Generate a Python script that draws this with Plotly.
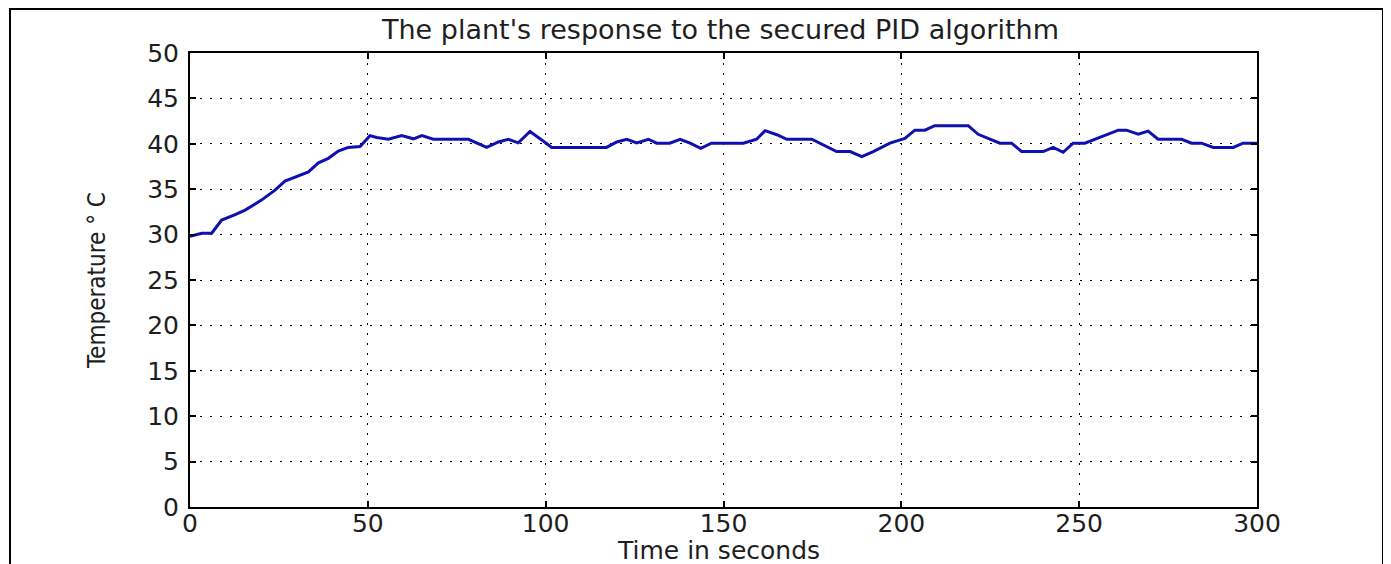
import plotly.graph_objects as go

time_s = [0, 3.3, 6.1, 8.9, 12.7, 15.5, 20.1, 23.9, 26.7, 30.4,
          33.3, 36.1, 38.9, 41.7, 44.5, 47.8, 50.6, 52.5, 55.8, 59.5,
          62.8, 65.2, 68.4, 78.3, 83.4, 86.7, 89.5, 92.3, 95.6, 99.3,
          101.7, 117.1, 120, 122.8, 125.6, 128.9, 131.2, 134.9, 137.8, 140.6,
          143.6, 146.6, 155.6, 159.3, 161.7, 165, 167.8, 174.8, 178.1, 181.8,
          185.6, 188.9, 192.1, 196.8, 201, 203.8, 206.6, 209.4, 218.8, 221.6,
          224.4, 227.7, 231, 233.8, 239.9, 242.7, 245.5, 248.3, 251.6, 254.9,
          258.6, 261, 263.3, 266.6, 269.4, 272.2, 278.8, 281.6, 284.4, 287.7,
          293.3, 296.1, 300]
temperature = [29.8, 30.15, 30.15, 31.6, 32.2, 32.7, 33.8, 34.9, 35.9, 36.5,
               36.9, 37.9, 38.4, 39.2, 39.6, 39.7, 40.9, 40.7, 40.5, 40.9,
               40.55, 40.9, 40.5, 40.5, 39.6, 40.2, 40.5, 40.1, 41.35, 40.3,
               39.6, 39.6, 40.2, 40.5, 40.1, 40.5, 40.07, 40.07, 40.5, 40.07,
               39.5, 40.07, 40.07, 40.5, 41.45, 41.0, 40.5, 40.5, 39.9, 39.15,
               39.15, 38.6, 39.15, 40.07, 40.6, 41.5, 41.5, 42.0, 42.0, 41.05,
               40.6, 40.07, 40.07, 39.15, 39.15, 39.6, 39.07, 40.07, 40.07, 40.6,
               41.2, 41.5, 41.5, 41.05, 41.4, 40.5, 40.5, 40.07, 40.07, 39.6,
               39.6, 40.07, 40.07]

x_ticks = [0, 50, 100, 150, 200, 250, 300]
y_ticks = [0, 5, 10, 15, 20, 25, 30, 35, 40, 45, 50]

title_text = "The plant's response to the secured PID algorithm"
x_label = "Time in seconds"
y_label = "Temperature ° C"

# page has an 8px body margin; figure sits at (8, 8)
OFF = 8
W, H = 1383, 556
PL, PR, PT, PB = 190, 1257, 53, 507  # plot area in page pixels
L, T = PL - OFF, PT - OFF
R, B = (OFF + W) - PR, (OFF + H) - PB
pw, ph = PR - PL, PB - PT


def px(X):
    return (X - PL) / pw


def py(Y):
    return (PB - Y) / ph


TXT = "#1e1e1e"
fig = go.Figure()
fig.add_trace(go.Scatter(x=time_s, y=temperature, mode="lines",
                         line=dict(color="#1010b0", width=3), showlegend=False))

axis_common = dict(
    showline=True, linecolor="black", linewidth=2, mirror="ticks",
    ticks="inside", ticklen=6, tickcolor="black", tickwidth=1.5,
    showgrid=True, gridcolor="black", gridwidth=1, griddash="2px,8px",
    zeroline=False,
    tickfont=dict(family="DejaVu Sans", size=25, color=TXT),
)

fig.update_xaxes(range=[0, 300], tickvals=x_ticks, ticktext=[str(v) for v in x_ticks],
                 ticklabelstandoff=-7, **axis_common)
fig.update_yaxes(range=[0, 50], tickvals=y_ticks, ticktext=[str(v) for v in y_ticks],
                 ticklabelstandoff=4, **axis_common)

# outer frame
fig.add_shape(type="rect", xref="paper", yref="paper",
              x0=px(10), x1=px(1383), y0=py(590), y1=py(9),
              line=dict(color="black", width=2), fillcolor="rgba(0,0,0,0)", layer="above")

fig.add_annotation(text=title_text, xref="paper", yref="paper", x=px(720), y=py(30),
                   xanchor="center", yanchor="middle", showarrow=False,
                   font=dict(family="DejaVu Sans", size=27, color=TXT))
fig.add_annotation(text=x_label, xref="paper", yref="paper", x=px(718), y=py(550),
                   xanchor="center", yanchor="middle", showarrow=False,
                   font=dict(family="DejaVu Sans", size=25, color=TXT))
fig.add_annotation(text=y_label, xref="paper", yref="paper", x=px(97), y=py(281),
                   xanchor="center", yanchor="middle", showarrow=False, textangle=-90,
                   font=dict(family="DejaVu Sans Condensed", size=24, color=TXT))

fig.update_layout(
    width=W, height=H,
    margin=dict(l=L, r=R, t=T, b=B, autoexpand=False),
    paper_bgcolor="white", plot_bgcolor="white",
)

fig.write_html("out.html")
